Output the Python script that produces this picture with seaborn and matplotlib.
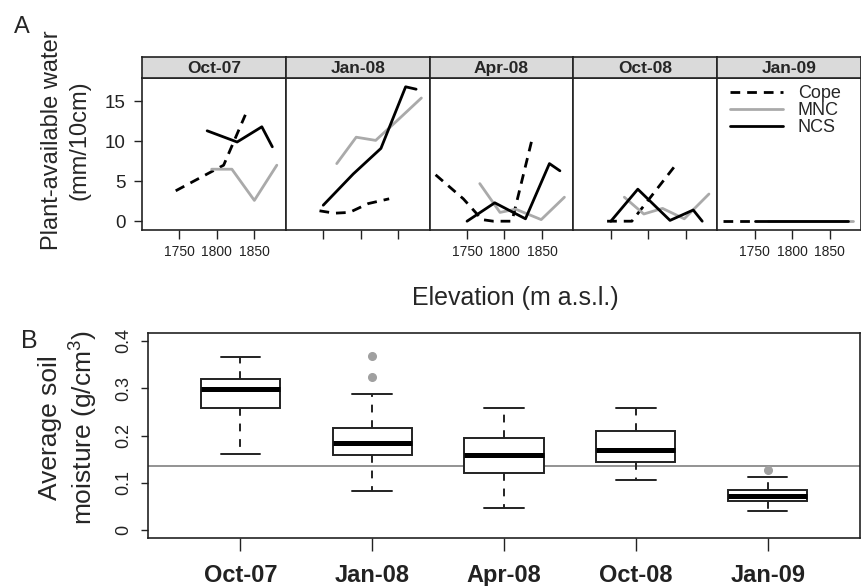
"""Plant-available water by elevation (A) and soil moisture boxplots (B)."""

import matplotlib

matplotlib.use("Agg")
import matplotlib.pyplot as plt
import pandas as pd
import seaborn as sns
from matplotlib.lines import Line2D

months = ["Oct-07", "Jan-08", "Apr-08", "Oct-08", "Jan-09"]
sites = ["Cope", "MNC", "NCS"]

# panel A: plant-available water (mm/10cm) against site elevation (m a.s.l.)
cope_elev = [
    [1745, 1785, 1809, 1838],
    [1745, 1765, 1785, 1810, 1838],
    [1708, 1745, 1770, 1785, 1810, 1838],
    [1745, 1778, 1838],
    [1708, 1745],
]
cope_water = [
    [3.8, 5.8, 7.0, 13.3],
    [1.3, 1.0, 1.1, 2.2, 2.8],
    [5.8, 2.8, 0.2, 0.0, 0.0, 10.7],
    [0.0, 0.0, 7.2],
    [0.0, 0.0],
]
mnc_elev = [
    [1793, 1820, 1850, 1880],
    [1768, 1794, 1820, 1849, 1881],
    [1767, 1794, 1815, 1849, 1880],
    [1768, 1794, 1819, 1848, 1881],
    [1768, 1794, 1820, 1849, 1881],
]
mnc_water = [
    [6.5, 6.5, 2.6, 7.0],
    [7.2, 10.5, 10.1, 12.6, 15.4],
    [4.7, 1.1, 1.5, 0.2, 3.0],
    [3.0, 0.9, 1.6, 0.3, 3.4],
    [0.0, 0.0, 0.0, 0.0, 0.0],
]
ncs_elev = [
    [1787, 1827, 1860, 1874],
    [1750, 1790, 1827, 1860, 1874],
    [1750, 1787, 1828, 1860, 1874],
    [1750, 1786, 1829, 1860, 1872],
    [1750, 1787, 1828, 1860, 1874],
]
ncs_water = [
    [11.3, 9.9, 11.8, 9.3],
    [2.0, 5.9, 9.1, 16.8, 16.5],
    [0.0, 2.3, 0.3, 7.2, 6.3],
    [0.0, 4.0, 0.1, 1.4, 0.0],
    [0.0, 0.0, 0.0, 0.0, 0.0],
]

# panel B: average soil moisture (g/cm3), five-number summaries per month
box_low = [0.161, 0.082, 0.048, 0.106, 0.041]
box_q1 = [0.257, 0.158, 0.122, 0.144, 0.062]
box_med = [0.298, 0.185, 0.159, 0.169, 0.0725]
box_q3 = [0.320, 0.215, 0.194, 0.209, 0.0845]
box_high = [0.365, 0.287, 0.259, 0.258, 0.113]
box_outliers = [[], [0.324, 0.367], [], [], [0.127]]
ref_moisture = 0.136

# long table for seaborn
rows = []
for site, elevs, waters in zip(
    sites, [cope_elev, mnc_elev, ncs_elev], [cope_water, mnc_water, ncs_water]
):
    for month, el, wa in zip(months, elevs, waters):
        for e, w in zip(el, wa):
            rows.append({"month": month, "site": site, "elev": e, "water": w})
water_df = pd.DataFrame(rows)

sns.set_style("ticks")
plt.rcParams["font.family"] = ["Liberation Sans", "DejaVu Sans"]
plt.rcParams["axes.edgecolor"] = "#222222"
plt.rcParams["xtick.color"] = "#222222"
plt.rcParams["ytick.color"] = "#222222"

W, H = 861, 586
fig = plt.figure(figsize=(W / 100, H / 100), dpi=100)


def fbox(left, top, right, bottom):
    """pixel box -> figure fraction rect"""
    return [left / W, 1 - bottom / H, (right - left) / W, (bottom - top) / H]


site_colors = {"Cope": "black", "MNC": "#aaaaaa", "NCS": "black"}
site_dashes = {"Cope": (3.5, 2.5), "MNC": "", "NCS": ""}

panel_w = (861 - 142) / 5
for i, month in enumerate(months):
    x0 = 142 + i * panel_w
    ax = fig.add_axes(fbox(x0, 78, x0 + panel_w, 230))
    strip = fig.add_axes(fbox(x0, 57, x0 + panel_w, 78))

    sub = water_df[water_df["month"] == month]
    sns.lineplot(
        data=sub,
        x="elev",
        y="water",
        hue="site",
        style="site",
        hue_order=sites,
        style_order=sites,
        palette=site_colors,
        dashes=site_dashes,
        estimator=None,
        sort=False,
        linewidth=2.0,
        legend=False,
        ax=ax,
    )
    ax.set_xlim(1700, 1892)
    ax.set_ylim(-1.1, 17.9)
    ax.set_xlabel("")
    ax.set_ylabel("")
    ax.set_xticks([1750, 1800, 1850])
    ax.tick_params(axis="x", length=6.5, width=1, pad=4, labelsize=10)
    if i % 2 == 1:
        ax.set_xticklabels([])
    if i == 0:
        ax.set_yticks([0, 5, 10, 15])
        ax.tick_params(axis="y", length=6, width=1, pad=6, labelsize=13.5)
    else:
        ax.set_yticks([])
    for sp in ax.spines.values():
        sp.set_linewidth(1.2)

    strip.set_facecolor("#dadada")
    strip.set_xticks([])
    strip.set_yticks([])
    for sp in strip.spines.values():
        sp.set_linewidth(1.2)
    strip.text(0.5, 0.45, month, ha="center", va="center",
               fontsize=12.5, fontweight="bold", transform=strip.transAxes)

    if i == 4:
        handles = [
            Line2D([], [], color=site_colors[s], lw=2.0,
                   dashes=site_dashes[s] if s == "Cope" else (None, None))
            for s in sites
        ]
        ax.legend(handles, sites, loc="upper left", bbox_to_anchor=(0.09, 0.955),
                  frameon=False, fontsize=13, handlelength=2.9,
                  handletextpad=0.85, labelspacing=0.0, borderpad=0,
                  borderaxespad=0)

fig.text(22 / W, 1 - 27 / H, "A", fontsize=17, ha="center", va="center")
fig.text(66 / W, 1 - 140 / H, "Plant-available water\n(mm/10cm)", rotation=90,
         fontsize=17, ha="center", va="center", linespacing=1.3)
fig.text(515 / W, 1 - 298 / H, "Elevation (m a.s.l.)", fontsize=18,
         ha="center", va="center")

# panel B
axb = fig.add_axes(fbox(148, 333, 860, 538))
stats = []
for k in range(len(months)):
    stats.append({
        "whislo": box_low[k], "q1": box_q1[k], "med": box_med[k],
        "q3": box_q3[k], "whishi": box_high[k], "fliers": box_outliers[k],
    })
axb.bxp(
    stats,
    positions=range(1, len(months) + 1),
    widths=0.6,
    patch_artist=True,
    boxprops=dict(facecolor="white", edgecolor="#222222", linewidth=1.4),
    medianprops=dict(color="black", linewidth=3.6, solid_capstyle="butt"),
    whiskerprops=dict(color="#222222", linewidth=1.4, linestyle=(0, (4, 4))),
    capprops=dict(color="#222222", linewidth=1.4),
    flierprops=dict(marker="o", markerfacecolor="#a0a0a0",
                    markeredgecolor="#a0a0a0", markersize=5.5),
)
axb.axhline(ref_moisture, color="#8a8a8a", linewidth=1.3, zorder=0)
axb.set_xlim(0.3, 5.7)
axb.set_ylim(-0.016, 0.416)
axb.set_xticks(range(1, len(months) + 1))
axb.set_xticklabels(months, fontsize=17, fontweight="bold")
axb.set_yticks([0, 0.1, 0.2, 0.3, 0.4])
axb.set_yticklabels(["0", "0.1", "0.2", "0.3", "0.4"], fontsize=13,
                    rotation=90, va="center")
axb.tick_params(axis="x", length=9, width=1, pad=10)
axb.tick_params(axis="y", length=5, width=1, pad=6)
for sp in axb.spines.values():
    sp.set_linewidth(1.2)

fig.text(29 / W, 1 - 341 / H, "B", fontsize=18, ha="center", va="center")
fig.text(69 / W, 1 - 428 / H, "Average soil\nmoisture (g/cm$\\mathregular{^3}$)",
         rotation=90, fontsize=19, ha="center", va="center", linespacing=1.25)

fig.savefig("out.png", dpi=100)
